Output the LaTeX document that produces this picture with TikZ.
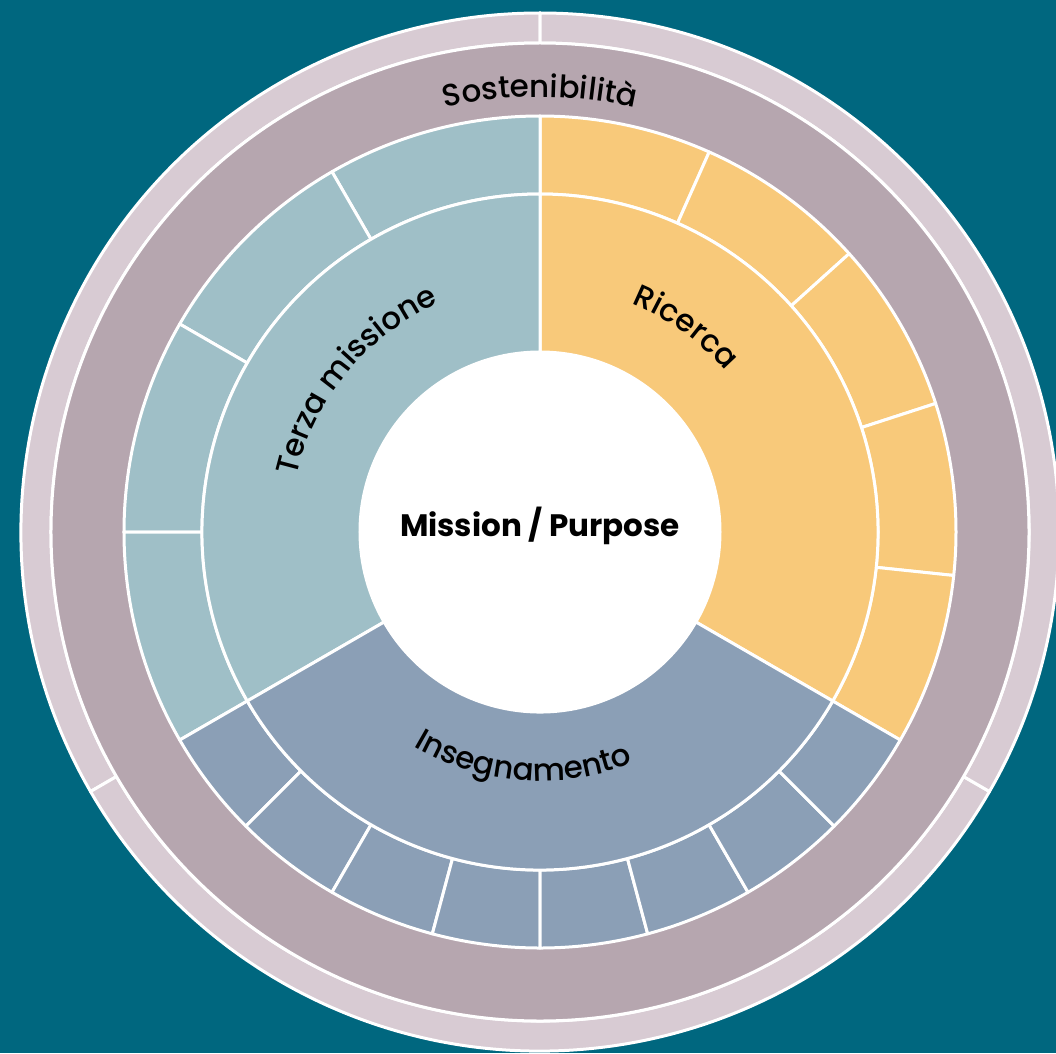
\documentclass[tikz,border=0pt]{standalone}
\usepackage{fontspec}
\setmainfont{Poppins}
\IfFontExistsTF{Poppins Medium}{\newfontfamily\lblfamily{Poppins Medium}}{\newfontfamily\lblfamily{Poppins}}
\usetikzlibrary{decorations.text}
\definecolor{bgteal}{HTML}{00677F}
\definecolor{lightring}{HTML}{D8CBD3}
\definecolor{mauve}{HTML}{B6A6AF}
\definecolor{ricerca}{HTML}{F8C97A}
\definecolor{terza}{HTML}{9FBFC7}
\definecolor{insegn}{HTML}{8B9FB6}
\newcommand\lblfont{\lblfamily\fontsize{31}{33}\selectfont}
\newcommand\annsec[5]{\path[seg,fill=#1] (#2:#4pt) arc[start angle=#2, end angle=#3, radius=#4pt] -- (#3:#5pt) arc[start angle=#3, end angle=#2, radius=#5pt] -- cycle;}
\begin{document}
\begin{tikzpicture}[x=1pt,y=1pt,
  seg/.style={draw=white, line width=3pt, line join=round},
  curvelbl/.style={decorate, decoration={text along path, text align=center, text={|\lblfont|#1}}}]
\useasboundingbox[fill=bgteal] (-540pt,-521pt) rectangle (516pt,532pt);
% outer light ring
\annsec{lightring}{90}{210}{489}{519}
\annsec{lightring}{210}{330}{489}{519}
\annsec{lightring}{-30}{90}{489}{519}
% mauve ring
\path[seg,fill=mauve] (0,0) circle[radius=489pt];
% sub segments
\foreach \a in {90,66,42,18,-6}{\pgfmathsetmacro\b{\a-24}\annsec{ricerca}{\a}{\b}{338}{416}}
\foreach \a in {90,120,150,180}{\pgfmathsetmacro\b{\a+30}\annsec{terza}{\a}{\b}{338}{416}}
\foreach \a in {210,225,...,315}{\pgfmathsetmacro\b{\a+15}\annsec{insegn}{\a}{\b}{338}{416}}
% main segments
\annsec{ricerca}{90}{-30}{180}{338}
\annsec{terza}{90}{210}{180}{338}
\annsec{insegn}{210}{330}{180}{338}
% centre
\path[fill=white] (0,0) circle[radius=180pt];
\node[font=\bfseries\fontsize{31}{33}\selectfont, anchor=base, inner sep=0pt] (mission) at (0,-4pt) {Mission / Purpose};
% curved labels
\path[curvelbl=Sostenibilità] (120:435pt) arc[start angle=120, end angle=60, radius=435pt];
\path[curvelbl=Ricerca] (84.5:246pt) arc[start angle=84.5, end angle=24.5, radius=246pt];
\path[curvelbl=Terza missione] (180.5:250pt) arc[start angle=180.5, end angle=100.5, radius=250pt];
\path[curvelbl=Insegnamento] (225.7:249pt) arc[start angle=225.7, end angle=305.7, radius=249pt];
\end{tikzpicture}
\end{document}
